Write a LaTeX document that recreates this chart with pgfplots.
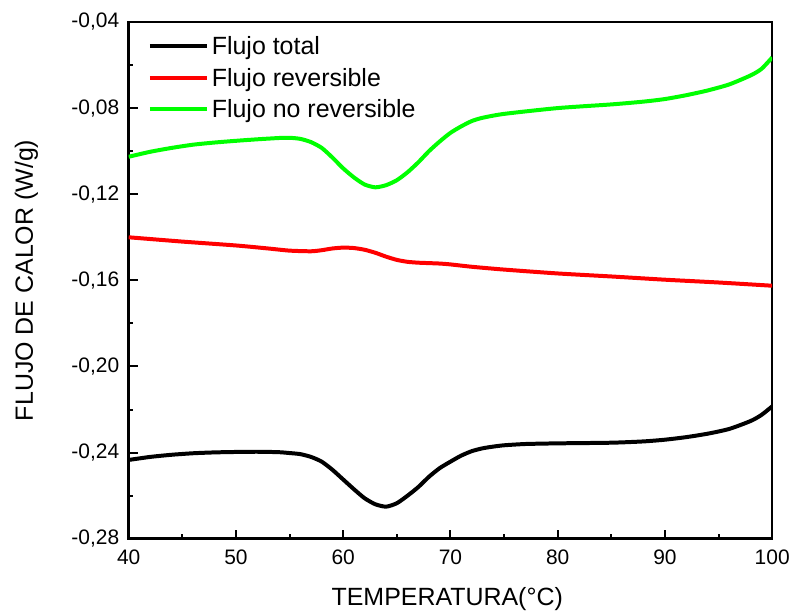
\documentclass[border=0pt]{standalone}
\usepackage{fontspec}
\setmainfont{Liberation Sans}
\usepackage{pgfplots}
\pgfplotsset{compat=1.18}
\definecolor{cgreen}{RGB}{0,255,0}
\definecolor{cred}{RGB}{255,0,0}
\begin{document}
\begin{tikzpicture}
\begin{axis}[
  name=ax,
  scale only axis,
  width=645pt, height=518pt,
  xmin=40, xmax=100, ymin=-0.28, ymax=-0.04,
  xtick={40,50,...,100},
  minor xtick={45,55,...,95},
  ytick={-0.28,-0.24,...,-0.03},
  minor ytick={-0.26,-0.22,...,-0.05},
  tick pos=left,
  tick align=inside,
  major tick length=9pt,
  minor tick length=4.5pt,
  every tick/.style={black, line width=2pt},
  axis line style={line width=2.5pt},
  /pgf/number format/assume math mode=true,
  yticklabel style={/pgf/number format/.cd, fixed, fixed zerofill, precision=2, use comma, /tikz/.cd, xshift=-6pt},
  xticklabel style={/pgf/number format/.cd, fixed, precision=0, /tikz/.cd, yshift=-8pt},
  tick label style={font=\fontsize{21}{25}\selectfont},
  xlabel={TEMPERATURA(°C)},
  ylabel={FLUJO DE CALOR (W/g)},
  label style={font=\fontsize{25}{30}\selectfont},
  xlabel style={at={(axis description cs:0.495,-0.116)}, anchor=center},
  ylabel style={at={(axis description cs:-0.159,0.5)}, anchor=center},
  legend style={draw=none, fill=none, at={(axis description cs:0.025,0.98)}, anchor=north west,
    font=\fontsize{25}{30}\selectfont, row sep=8pt,
    nodes={inner xsep=3pt}},
  legend cell align=left,
  legend image code/.code={\draw[#1, line width=4pt] (0pt,0pt) -- (57pt,0pt);},
  every axis plot/.append style={line width=4pt, smooth, tension=0.4},
]
\addplot[black] coordinates {
(40,-0.2434) (42,-0.2420) (44,-0.2410) (46,-0.2403) (48,-0.2399) (50,-0.2397)
(52,-0.2396) (54,-0.2398) (55,-0.2402) (56,-0.2407) (57,-0.2420) (58,-0.2442)
(59,-0.2480) (60,-0.2525) (61,-0.2570) (62,-0.2612) (63,-0.2640) (64,-0.2651)
(65,-0.2635) (66,-0.2600) (67,-0.2560) (68,-0.2512) (69,-0.2472) (70,-0.2442)
(71,-0.2414) (72,-0.2393) (73,-0.2380) (74,-0.2372) (75,-0.2366) (77,-0.2360)
(80,-0.2357) (85,-0.2354) (88,-0.2348) (90,-0.2340) (92,-0.2328) (94,-0.2312)
(96,-0.2290) (98,-0.2253) (99,-0.2225) (100,-0.2185)
};
\addlegendentry{Flujo total}
\addplot[cred] coordinates {
(40,-0.1400) (45,-0.1420) (50,-0.1438) (53,-0.1452) (55,-0.1462) (57,-0.1465)
(58,-0.1460) (59,-0.1452) (60,-0.1448) (61,-0.1450) (62,-0.1458) (63,-0.1472)
(64,-0.1490) (65,-0.1505) (66,-0.1514) (67,-0.1518) (68,-0.1520) (69,-0.1522)
(70,-0.1526) (72,-0.1537) (75,-0.1550) (80,-0.1568) (85,-0.1582) (90,-0.1597)
(95,-0.1610) (100,-0.1625)
};
\addlegendentry{Flujo reversible}
\addplot[cgreen] coordinates {
(40,-0.1026) (42,-0.1003) (44,-0.0985) (46,-0.0970) (48,-0.0960) (50,-0.0952)
(52,-0.0945) (54,-0.0939) (55,-0.0938) (56,-0.0943) (57,-0.0958) (58,-0.0985)
(59,-0.1030) (60,-0.1080) (61,-0.1122) (62,-0.1155) (63,-0.1168) (64,-0.1158)
(65,-0.1135) (66,-0.1098) (67,-0.1052) (68,-0.1000) (69,-0.0955) (70,-0.0915)
(71,-0.0885) (72,-0.0860) (73,-0.0845) (75,-0.0827) (80,-0.0800) (85,-0.0783)
(88,-0.0770) (90,-0.0758) (92,-0.0740) (94,-0.0718) (96,-0.0690) (98,-0.0648)
(99,-0.0618) (100,-0.0565)
};
\addlegendentry{Flujo no reversible}
\end{axis}
\useasboundingbox ([shift={(-129pt,-73pt)}]ax.south west) rectangle ([shift={(19pt,22pt)}]ax.north east);
\end{tikzpicture}
\end{document}
